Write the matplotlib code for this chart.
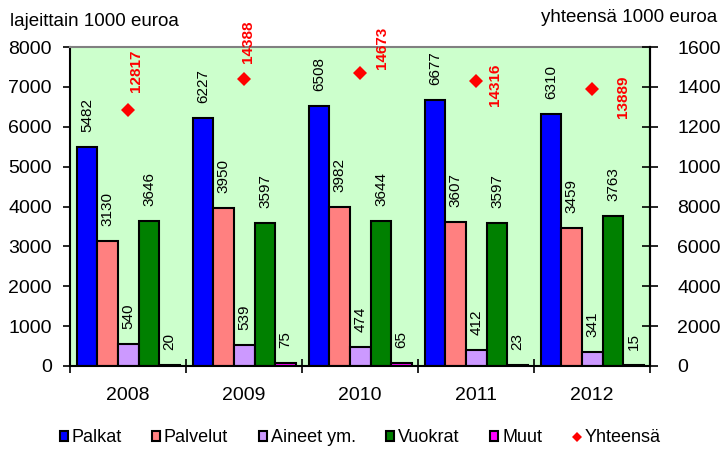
import matplotlib
matplotlib.use('Agg')
import matplotlib.pyplot as plt
from matplotlib.patches import Patch
from matplotlib.lines import Line2D
import numpy as np

plt.rcParams['font.family'] = ['Liberation Sans', 'DejaVu Sans']

#Data
years = ['2008', '2009', '2010', '2011', '2012']
palkat = [5482, 6227, 6508, 6677, 6310]
palvelut = [3130, 3950, 3982, 3607, 3459]
aineet = [540, 539, 474, 412, 341]
vuokrat = [3646, 3597, 3644, 3597, 3763]
muut = [20, 75, 65, 23, 15]
yhteensa = [12817, 14388, 14673, 14316, 13889]

series = [palkat, palvelut, aineet, vuokrat, muut]
names = ['Palkat', 'Palvelut', 'Aineet ym.', 'Vuokrat', 'Muut']
colors = ['#0000FF', '#FF8080', '#CC99FF', '#008000', '#FF00FF']

#Red total labels were moved by hand in the original, offsets in pixels
total_dx = [8, 4, 22, 19, 31]
total_dy = [40, 37, 26, -4, -8]

fig = plt.figure(figsize=(7.2, 4.53), dpi=100)
ax = fig.add_axes([70/720, 1 - 366/453, 580/720, 319/453])
ax.set_facecolor('#CCFFCC')

x = np.arange(len(years))
w = 0.178
for i, vals in enumerate(series):
    pos = x + (i - 2) * w + 0.003
    ax.bar(pos, vals, w, color=colors[i], edgecolor='black', linewidth=1.5, zorder=2)
    for p, v in zip(pos, vals):
        ax.annotate(str(v), (p, v), xytext=(0, 15), textcoords='offset pixels',
                    rotation=90, ha='center', va='bottom', fontsize=11, zorder=3)

ax.set_xlim(-0.5, 4.5)
ax.set_ylim(0, 8000)
ax.set_yticks(range(0, 8001, 1000))
ax.set_xticks(np.arange(-0.5, 5, 1))
ax.set_xticklabels([])
ax.set_xticks(x, minor=True)
ax.set_xticklabels(years, minor=True)
ax.tick_params(axis='x', which='major', direction='inout', length=10, width=1.2)
ax.tick_params(axis='x', which='minor', length=0, pad=15, labelsize=14)
ax.tick_params(axis='y', direction='out', length=5, width=1.2, pad=8, labelsize=14)
for s in ['left', 'bottom', 'right']:
    ax.spines[s].set_color('black')
    ax.spines[s].set_linewidth(1.5)
ax.spines['top'].set_color('#808080')
ax.spines['top'].set_linewidth(1.5)

#Second axis for the totals
ax2 = ax.twinx()
ax2.set_ylim(0, 16000)
ax2.set_yticks(range(0, 16001, 2000))
ax2.tick_params(axis='y', direction='inout', length=11, width=1.2, pad=14, labelsize=14)
ax2.spines['right'].set_linewidth(1.5)
ax2.spines['top'].set_visible(False)
ax2.spines['left'].set_visible(False)
ax2.spines['bottom'].set_visible(False)
ax2.plot(x, yhteensa, linestyle='none', marker='D', markersize=7.5, color='#FF0000', markeredgewidth=0, zorder=3)
for i, v in enumerate(yhteensa):
    ax2.annotate(str(v), (x[i], v), xytext=(total_dx[i], total_dy[i]), textcoords='offset pixels',
                 rotation=90, ha='center', va='center', fontsize=11, fontweight='bold', color='#FF0000')

fig.text(10/720, 1 - 22/453, 'lajeittain 1000 euroa', fontsize=13.5, ha='left', va='center')
fig.text(717/720, 1 - 17/453, 'yhteensä 1000 euroa', fontsize=13.5, ha='right', va='center')

handles = [Patch(facecolor=c, edgecolor='black', linewidth=1.5) for c in colors]
handles.append(Line2D([], [], linestyle='none', marker='D', markersize=5, color='#FF0000', markeredgewidth=0))
fig.legend(handles, names + ['Yhteensä'], loc='center', bbox_to_anchor=(0.5, 1 - 438/453), ncol=6,
           frameon=False, fontsize=13, handlelength=0.45, handleheight=0.45, handletextpad=0.2,
           columnspacing=1.7)

plt.savefig('out.png', dpi=100)
